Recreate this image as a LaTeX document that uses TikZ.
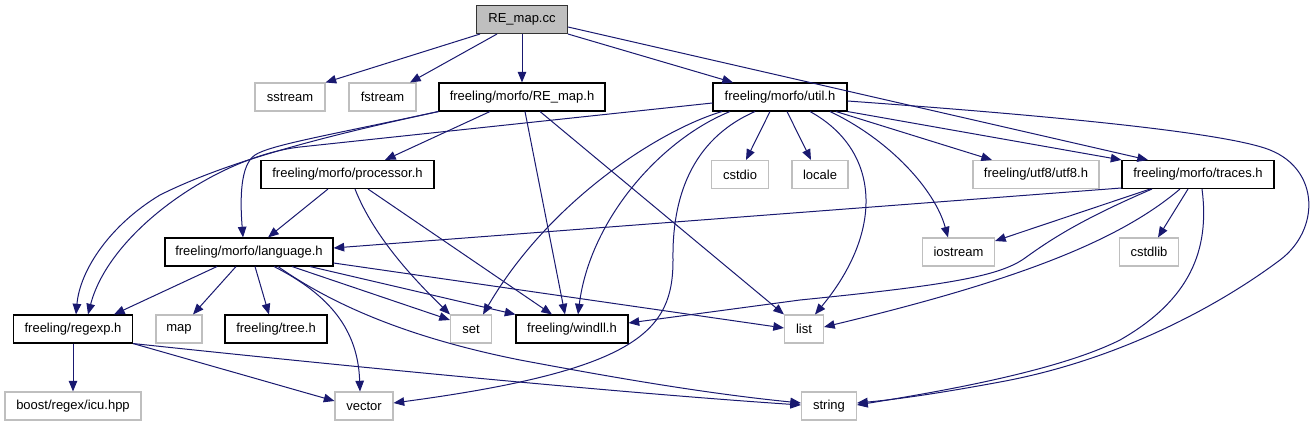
\documentclass[tikz,border=0pt]{standalone}
\usepackage{fontspec}
\setmainfont{Liberation Sans}
\usetikzlibrary{arrows.meta,calc}
\definecolor{edgeblue}{HTML}{191970}
\definecolor{boxgray}{HTML}{BFBFBF}
\tikzset{
  anybox/.style={rectangle, inner sep=0pt, minimum height=21pt, line width=0.8pt,
    font=\fontsize{9.75}{11}\selectfont, text=black},
  sysbox/.style={anybox, draw=boxgray, fill=white},
  prjbox/.style={anybox, draw=black, fill=white},
  rootbox/.style={anybox, draw=black!80, fill=boxgray},
  bw/.style={minimum width=#1*0.75pt},
  dep/.style={draw=edgeblue, line width=0.75pt, -{Triangle[length=8pt,width=6.4pt]}}
}
\begin{document}
\begin{tikzpicture}[x=0.75pt, y=-0.75pt]
\fill[white] (0,0) rectangle (1313,427);
\useasboundingbox (0,0) rectangle (1313,427);
% nodes
\node[rootbox, bw=91]  (cc)      at (522,19.5)  {RE\_map.cc};
\node[sysbox, bw=70]   (sstream) at (290,97)    {sstream};
\node[sysbox, bw=67]   (fstream) at (382.5,97)  {fstream};
\node[prjbox, bw=166]  (rh)      at (522,97)    {freeling/morfo/RE\_map.h};
\node[prjbox, bw=134]  (util)    at (780,97)    {freeling/morfo/util.h};
\node[prjbox, bw=173]  (proc)    at (347.5,174.5) {freeling/morfo/processor.h};
\node[sysbox, bw=57]   (cstdio)  at (740,174.5) {cstdio};
\node[sysbox, bw=56]   (locale)  at (820,174.5) {locale};
\node[sysbox, bw=126]  (utf8)    at (1036,174.5) {freeling/utf8/utf8.h};
\node[prjbox, bw=152]  (traces)  at (1198,174.5) {freeling/morfo/traces.h};
\node[prjbox, bw=168]  (lang)    at (249,252)   {freeling/morfo/language.h};
\node[sysbox, bw=72]   (iostream) at (958.5,252) {iostream};
\node[sysbox, bw=59]   (cstdlib) at (1149,252)  {cstdlib};
\node[prjbox, bw=119]  (regexp)  at (73,329)    {freeling/regexp.h};
\node[sysbox, bw=46]   (map)     at (179,329)   {map};
\node[prjbox, bw=102]  (tree)    at (276,329)   {freeling/tree.h};
\node[sysbox, bw=41]   (set)     at (471,329)   {set};
\node[prjbox, bw=112]  (windll)  at (572,329)   {freeling/windll.h};
\node[sysbox, bw=39]   (list)    at (804,329)   {list};
\node[sysbox, bw=136]  (icu)     at (73,406)    {boost/regex/icu.hpp};
\node[sysbox, bw=58]   (vector)  at (364,406)   {vector};
\node[sysbox, bw=55]   (string)  at (829,406)   {string};
% RE_map.cc
\draw[dep] (cc.south -| 480,0) -- (sstream.north east);
\draw[dep] (cc.south -| 497,0) -- (fstream.north -| 410,0);
\draw[dep] (cc.south) -- (rh.north);
\draw[dep] (cc.south east) -- (util.north -| 733,0);
\draw[dep] (cc.east |- 0,27) -- (traces.north -| 1148,0);
% RE_map.h
\draw[dep] (rh.south -| 490,0) -- (proc.north -| 385,0);
\draw[dep] (rh.south -| 525,0) -- (windll.north -| 565,0);
\draw[dep] (rh.south -| 540,0) -- (list.north west);
\draw[dep] (rh.south west) .. controls (330,135) and (230,160) .. (160,195)
  .. controls (110,225) and (80,270) .. (regexp.north -| 76,0);
\draw[dep] (rh.south west) .. controls (330,135) and (270,145) .. (255,155)
  .. controls (240,165) and (240,200) .. (lang.north -| 243,0);
% processor.h
\draw[dep] (proc.south -| 328,0) -- (lang.north -| 268,0);
\draw[dep] (proc.south -| 355,0) .. controls (375,240) and (420,285) .. (set.north west);
\draw[dep] (proc.south -| 368,0) -- (windll.north -| 552,0);
% language.h
\draw[dep] (lang.south -| 217,0) -- (regexp.north -| 114,0);
\draw[dep] (lang.south -| 236,0) -- (map.north -| 193,0);
\draw[dep] (lang.south -| 255,0) -- (tree.north -| 269,0);
\draw[dep] (lang.south -| 274,0) .. controls (330,295) and (358,330) .. (vector.north -| 360,0);
\draw[dep] (lang.south -| 278,0) .. controls (340,310) and (420,340) .. (520,360)
  .. controls (600,375) and (700,393) .. (string.west |- 0,403);
\draw[dep] (lang.south -| 292,0) -- (set.west |- 0,320);
\draw[dep] (lang.south -| 310,0) -- (windll.north west);
\draw[dep] (lang.east |- 0,263) -- (list.west |- 0,328);
% regexp.h
\draw[dep] (regexp.south) -- (icu.north);
\draw[dep] (regexp.south east) -- (vector.west |- 0,401);
\draw[dep] (regexp.south east) .. controls (400,372) and (650,395) .. (string.west |- 0,405);
% util.h
\draw[dep] (util.west |- 0,103) -- (300,147) .. controls (220,156) and (110,230) .. (regexp.north -| 88,0);
\draw[dep] (util.south -| 722,0) .. controls (660,130) and (550,200) .. (set.north -| 483,0);
\draw[dep] (util.south -| 730,0) .. controls (660,140) and (590,220) .. (windll.north -| 578,0);
\draw[dep] (util.south -| 755,0) .. controls (690,140) and (672,200) .. (673,260)
  .. controls (673,330) and (640,370) .. (vector.east |- 0,403);
\draw[dep] (util.south -| 770,0) -- (cstdio.north -| 746,0);
\draw[dep] (util.south -| 787,0) -- (locale.north -| 811,0);
\draw[dep] (util.south -| 810,0) .. controls (880,150) and (885,230) .. (list.north -| 815,0);
\draw[dep] (util.south -| 830,0) .. controls (890,140) and (935,190) .. (iostream.north -| 948,0);
\draw[dep] (util.south -| 836,0) -- (utf8.north -| 992,0);
\draw[dep] (util.south east) -- (traces.north west);
\draw[dep] (util.east |- 0,101) .. controls (1000,112) and (1220,130) .. (1270,150)
  .. controls (1320,170) and (1320,230) .. (1280,260)
  .. controls (1220,305) and (1120,360) .. (1000,382)
  .. controls (930,395) and (890,400) .. (string.east |- 0,403);
% traces.h
\draw[dep] (traces.west |- 0,188) -- (lang.east |- 0,248);
\draw[dep] (traces.south -| 1150,0) -- (iostream.east |- 0,241);
\draw[dep] (traces.south -| 1152,0) .. controls (1080,220) and (1050,240) .. (1025,258)
  .. controls (1000,276) and (950,285) .. (800,300) -- (windll.east |- 0,323);
\draw[dep] (traces.south -| 1180,0) .. controls (1120,240) and (1020,280) .. (list.east |- 0,327);
\draw[dep] (traces.south -| 1188,0) -- (cstdlib.north -| 1158,0);
\draw[dep] (traces.south -| 1202,0) .. controls (1210,250) and (1190,300) .. (1120,340)
  .. controls (1060,370) and (950,390) .. (string.east |- 0,405);
\end{tikzpicture}
\end{document}
